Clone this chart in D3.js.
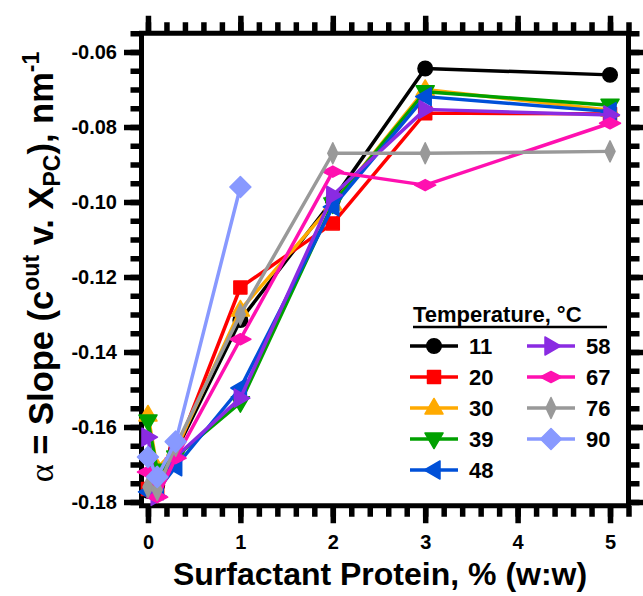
<!DOCTYPE html>
<html>
<head>
<meta charset="utf-8">
<script src="https://cdn.jsdelivr.net/npm/d3@7"></script>
<style>
  body { margin: 0; background: #fff; }
  text { font-family: "Liberation Sans", Arial, sans-serif; font-weight: bold; }
</style>
</head>
<body>
<div id="chart"></div>
<script>
// Slope vs surfactant protein content, one line per temperature

const concentrations = [0, 0.1, 0.3, 1, 2, 3, 5];
const temps = ["11", "20", "30", "39", "48", "58", "67", "76", "90"];

const slope11 = [-0.1770, -0.1755, -0.1665, -0.1315, -0.0995, -0.0644, -0.0661];
const slope20 = [-0.1765, -0.1770, -0.1670, -0.1228, -0.1057, -0.0763, -0.0765];
const slope30 = [-0.1568, -0.1710, -0.1660, -0.1288, -0.1005, -0.0700, -0.0755];
const slope39 = [-0.1584, -0.1715, -0.1680, -0.1535, -0.1005, -0.0706, -0.0742];
const slope48 = [-0.1773, -0.1770, -0.1706, -0.1496, -0.1013, -0.0719, -0.0759];
const slope58 = [-0.1627, -0.1785, -0.1680, -0.1523, -0.0982, -0.0753, -0.0768];
const slope67 = [-0.1720, -0.1787, -0.1683, -0.1366, -0.0919, -0.0955, -0.0790];
const slope76 = [-0.1760, -0.1768, -0.1650, -0.1300, -0.0870, -0.0870, -0.0865];
const slope90 = [-0.1680, -0.1733, -0.1639, -0.0960]; // stops at 1 %

const xTicks = [0, 1, 2, 3, 4, 5];
const yTicks = [-0.18, -0.16, -0.14, -0.12, -0.10, -0.08, -0.06];

const allSlopes = [slope11, slope20, slope30, slope39, slope48, slope58, slope67, slope76, slope90];
const colors = ["#000000", "#ff0000", "#ffaa00", "#00a000", "#0050d8", "#8a2be2", "#ff10b0", "#999999", "#8899ff"];
const shapes = ["circle", "square", "up", "down", "left", "right", "hdiamond", "vdiamond", "diamond"];

const series = temps.map((t, i) => ({
    temp: t,
    color: colors[i],
    shape: shapes[i],
    values: allSlopes[i].map((v, j) => ({ x: concentrations[j], y: v }))
}));

const width = 643, height = 596;
const frame = { left: 141.5, right: 628.5, top: 33.25, bottom: 505.75 };

let svg = d3.select("#chart")
    .append("svg")
    .attr("width", width)
    .attr("height", height);

let x = d3.scaleLinear()
    .domain([-0.07, 5.2])
    .range([frame.left, frame.right]);

let y = d3.scaleLinear()
    .domain([-0.181, -0.055])
    .range([frame.bottom, frame.top]);

const xMinor = d3.range(0, 5.21, 0.2);
const yMinor = d3.range(-0.18, -0.0549, 0.005);

function styleTicks(g) {
    g.select(".domain").remove();
    g.selectAll(".tick line").attr("stroke", "#000").attr("stroke-width", 5.5);
}

// tick-only axes (no labels)
function bareTicks(g) {
    styleTicks(g);
    g.selectAll(".tick text").remove();
}

// minor ticks on all four sides
svg.append("g").attr("transform", `translate(0,${frame.bottom})`)
    .call(d3.axisBottom(x).tickValues(xMinor).tickSize(11))
    .call(bareTicks);
svg.append("g").attr("transform", `translate(0,${frame.top})`)
    .call(d3.axisTop(x).tickValues(xMinor).tickSize(11))
    .call(bareTicks);
svg.append("g").attr("transform", `translate(${frame.left},0)`)
    .call(d3.axisLeft(y).tickValues(yMinor).tickSize(11))
    .call(bareTicks);
svg.append("g").attr("transform", `translate(${frame.right},0)`)
    .call(d3.axisRight(y).tickValues(yMinor).tickSize(11))
    .call(bareTicks);

// major ticks
svg.append("g").attr("transform", `translate(0,${frame.bottom})`)
    .call(d3.axisBottom(x).tickValues(xTicks).tickSize(17.5).tickPadding(12).tickFormat(d3.format("d")))
    .call(styleTicks)
    .call(g => g.selectAll("text").attr("font-size", 20).attr("fill", "#000")
        .style("font-family", "'Liberation Sans', Arial, sans-serif"));
svg.append("g").attr("transform", `translate(0,${frame.top})`)
    .call(d3.axisTop(x).tickValues(xTicks).tickSize(17.5))
    .call(bareTicks);
svg.append("g").attr("transform", `translate(${frame.left},0)`)
    .call(d3.axisLeft(y).tickValues(yTicks).tickSize(17.5).tickPadding(7))
    .call(styleTicks)
    .call(g => g.selectAll("text").attr("font-size", 20).attr("fill", "#000")
        .text(d => d3.format(".2f")(d).replace("−", "-"))
        .style("font-family", "'Liberation Sans', Arial, sans-serif"));
svg.append("g").attr("transform", `translate(${frame.right},0)`)
    .call(d3.axisRight(y).tickValues(yTicks).tickSize(17.5))
    .call(bareTicks);

// frame
svg.append("rect")
    .attr("x", frame.left)
    .attr("y", frame.top)
    .attr("width", frame.right - frame.left)
    .attr("height", frame.bottom - frame.top)
    .attr("fill", "none")
    .attr("stroke", "#000")
    .attr("stroke-width", 5);

// marker shapes
function markerPath(shape) {
    const pts = {
        up: [[0, -9.5], [9, 6], [-9, 6]],
        down: [[0, 9.5], [9, -6], [-9, -6]],
        left: [[-9.5, 0], [6, -9], [6, 9]],
        right: [[9.5, 0], [-6, -9], [-6, 9]],
        hdiamond: [[-10.5, 0], [0, -5.5], [10.5, 0], [0, 5.5]],
        vdiamond: [[0, -10.5], [5, 0], [0, 10.5], [-5, 0]],
        diamond: [[0, -10.5], [10.5, 0], [0, 10.5], [-10.5, 0]]
    };
    if (shape == "circle") return d3.symbol(d3.symbolCircle, 165)();
    if (shape == "square") return "M-6.5,-6.5H6.5V6.5H-6.5Z";
    return "M" + pts[shape].map(p => p.join(",")).join("L") + "Z";
}

function drawMarker(sel, shape, color) {
    sel.append("path")
        .attr("d", markerPath(shape))
        .attr("fill", color)
        .attr("stroke", color)
        .attr("stroke-width", 1.5)
        .attr("stroke-linejoin", "round");
}

let line = d3.line()
    .x(d => x(d.x))
    .y(d => y(d.y));

let groups = svg.selectAll(".series")
    .data(series)
    .join("g")
    .attr("class", "series");

groups.append("path")
    .attr("d", d => line(d.values))
    .attr("fill", "none")
    .attr("stroke", d => d.color)
    .attr("stroke-width", 3.5)
    .attr("stroke-linejoin", "round");

groups.each(function(s) {
    d3.select(this).selectAll(".pt")
        .data(s.values)
        .join("g")
        .attr("class", "pt")
        .attr("transform", d => `translate(${x(d.x)},${y(d.y)})`)
        .each(function() { drawMarker(d3.select(this), s.shape, s.color); });
});

// legend
let legend = svg.append("g");
legend.append("text")
    .attr("x", 413)
    .attr("y", 322)
    .attr("font-size", 22)
    .text("Temperature, °C");
legend.append("line")
    .attr("x1", 413).attr("x2", 607)
    .attr("y1", 327).attr("y2", 327)
    .attr("stroke", "#000")
    .attr("stroke-width", 2.5);

series.forEach((s, i) => {
    const col = i < 5 ? 0 : 1;
    const row = i < 5 ? i : i - 5;
    const lx = col == 0 ? 410 : 527;
    const ly = 346 + row * 31;
    let item = legend.append("g");
    item.append("line")
        .attr("x1", lx).attr("x2", lx + 48)
        .attr("y1", ly).attr("y2", ly)
        .attr("stroke", s.color)
        .attr("stroke-width", 3.5);
    drawMarker(item.append("g").attr("transform", `translate(${lx + 24},${ly})`), s.shape, s.color);
    item.append("text")
        .attr("x", lx + 59)
        .attr("y", ly + 8)
        .attr("font-size", 22)
        .text(s.temp);
});

// axis titles
svg.append("text")
    .attr("x", 380)
    .attr("y", 585)
    .attr("text-anchor", "middle")
    .attr("font-size", 32)
    .text("Surfactant Protein, % (w:w)");

let yTitle = svg.append("text")
    .attr("transform", "translate(53,267) rotate(-90)")
    .attr("text-anchor", "middle")
    .attr("font-size", 34.5);
yTitle.append("tspan")
    .style("font-family", "'Liberation Serif', 'Times New Roman', serif")
    .style("font-weight", "normal")
    .text("α");
yTitle.append("tspan").text(" = Slope (c");
yTitle.append("tspan").attr("font-size", 23).attr("dy", -14).text("out");
yTitle.append("tspan").attr("dy", 14).text(" v. X");
yTitle.append("tspan").attr("font-size", 23).attr("dy", 7).text("PC");
yTitle.append("tspan").attr("dy", -7).text("), nm");
yTitle.append("tspan").attr("font-size", 23).attr("dy", -14).text("-1");
</script>
</body>
</html>
